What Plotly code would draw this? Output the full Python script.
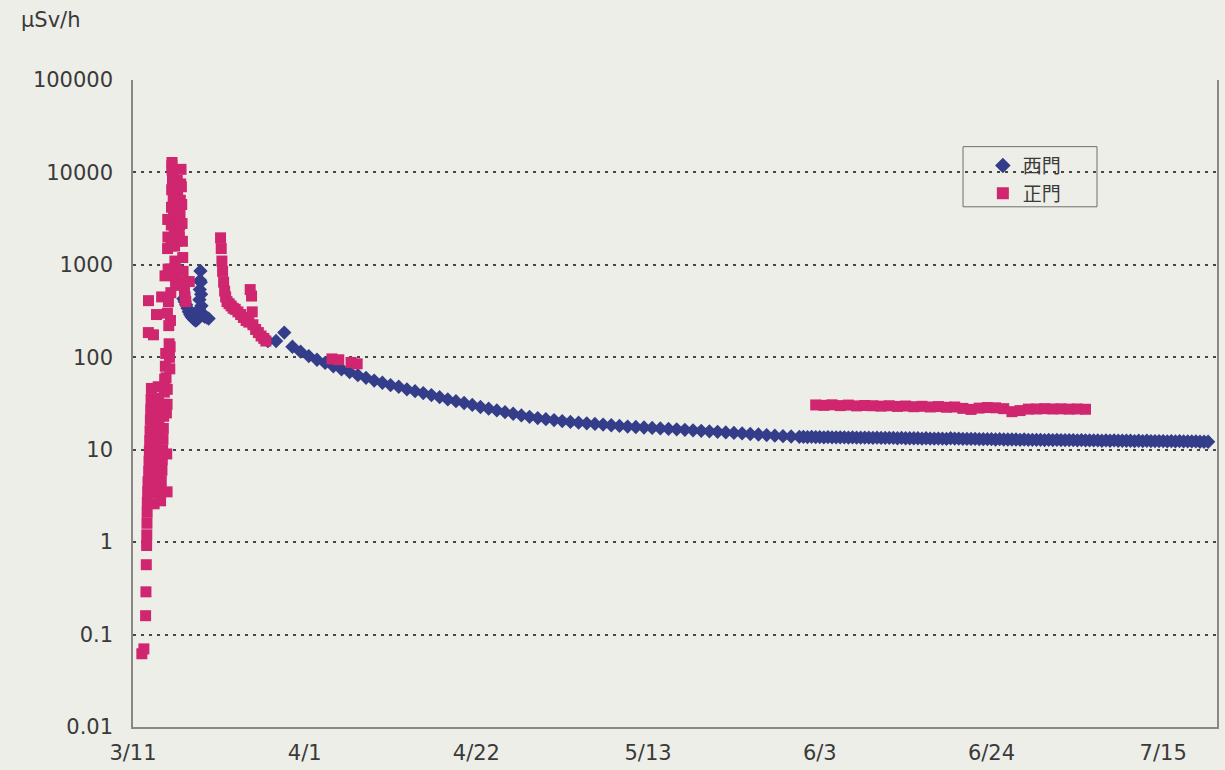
import pandas as pd
import plotly.graph_objects as go

# ---------------- data ----------------
# 西門 (west gate) – irregular early readings
west_early_t = ["3/17 04:00", "3/17 08:00", "3/17 12:00", "3/17 16:00", "3/17 20:00",
                "3/18 00:00", "3/18 04:00", "3/18 08:00", "3/18 12:00", "3/18 16:00",
                "3/18 20:00", "3/19 00:00", "3/19 02:00", "3/19 03:00", "3/19 04:00",
                "3/19 05:00", "3/19 06:00", "3/19 07:00", "3/19 08:00", "3/19 09:00",
                "3/19 10:00", "3/19 14:00", "3/19 18:00", "3/20 00:00", "3/20 06:00"]
west_early_v = [430, 400, 370, 340, 310,
                290, 275, 265, 255, 250,
                255, 265, 330, 420, 540,
                680, 860, 650, 480, 360,
                300, 285, 275, 270, 262]

# 西門 daily readings from 3/27 12:00 to 5/31 12:00
west_daily_start = "2011-03-27 12:00"
west_daily_v = [150, 150, 185, 130, 115,
                103, 94, 87, 80, 74, 69, 64, 60, 56, 53,
                50, 48, 45, 43, 41, 39, 37, 35, 33.5, 32,
                30.5, 29, 27.8, 26.6, 25.5, 24.5, 23.5, 22.7, 22, 21.4,
                20.9, 20.4, 20, 19.6, 19.3, 19, 18.7, 18.4, 18.1, 17.8,
                17.6, 17.4, 17.2, 17.0, 16.8, 16.6, 16.4, 16.2, 16.0, 15.8,
                15.6, 15.4, 15.2, 15.0, 14.8, 14.6, 14.4, 14.2, 14.0, 13.9, 13.8]

# 西門 twice-daily readings from 6/1 00:00 to 7/20 12:00
west_half_start = "2011-06-01 00:00"
west_half_v = [13.8, 13.7, 13.8, 13.7, 13.7, 13.6, 13.7, 13.6, 13.6, 13.6,
               13.6, 13.5, 13.6, 13.5, 13.5, 13.5, 13.5, 13.4, 13.5, 13.4,
               13.4, 13.4, 13.4, 13.3, 13.4, 13.3, 13.3, 13.3, 13.3, 13.2,
               13.3, 13.2, 13.2, 13.2, 13.2, 13.1, 13.3, 13.2, 13.2, 13.1,
               13.1, 13.1, 13.1, 13.0, 13.0, 13.0, 13.0, 12.9, 13.0, 12.9,
               12.9, 12.9, 12.9, 12.8, 12.9, 12.8, 12.8, 12.8, 12.8, 12.7,
               12.8, 12.7, 12.8, 12.7, 12.7, 12.7, 12.7, 12.6, 12.7, 12.6,
               12.6, 12.6, 12.6, 12.5, 12.6, 12.5, 12.6, 12.5, 12.5, 12.5,
               12.5, 12.4, 12.5, 12.4, 12.5, 12.4, 12.4, 12.4, 12.4, 12.3,
               12.4, 12.3, 12.4, 12.3, 12.3, 12.3, 12.3, 12.2, 12.2, 12.2]

# 正門 (main gate) – irregular readings March/April
main_t = ["3/12 02:00", "3/12 08:00", "3/12 13:00", "3/12 14:00", "3/12 15:00",
          "3/12 16:00", "3/12 16:30", "3/12 17:00", "3/12 17:30", "3/12 18:00",
          "3/12 19:00", "3/12 20:00", "3/12 21:00", "3/12 21:30", "3/12 22:00",
          "3/12 23:00", "3/13 00:00", "3/13 01:00", "3/13 02:00", "3/13 03:00",
          "3/13 04:00", "3/13 05:00", "3/13 06:00", "3/13 07:00", "3/13 08:00",
          "3/13 09:00", "3/13 10:00", "3/13 11:00", "3/13 12:00", "3/13 13:00",
          "3/13 14:00", "3/13 15:00", "3/13 16:00", "3/13 17:00", "3/13 18:00",
          "3/13 19:00", "3/13 20:00", "3/13 21:00", "3/13 22:00", "3/13 23:00",
          "3/14 00:00", "3/14 01:00", "3/14 02:00", "3/14 03:00", "3/14 04:00",
          "3/14 05:00", "3/14 06:00", "3/14 07:00", "3/14 08:00", "3/14 09:00",
          "3/14 10:00", "3/14 11:00", "3/14 12:00", "3/14 13:00", "3/14 14:00",
          "3/14 15:00", "3/14 16:00", "3/14 17:00", "3/14 18:00", "3/14 19:00",
          "3/14 20:00", "3/14 21:00", "3/14 22:00", "3/14 23:00", "3/15 00:00",
          "3/15 01:00", "3/15 02:00", "3/15 03:00", "3/15 04:00", "3/15 04:00",
          "3/15 04:30", "3/15 05:00", "3/15 05:30", "3/15 06:00", "3/15 06:30",
          "3/15 07:00", "3/15 08:00", "3/15 09:00", "3/15 10:00", "3/15 11:00",
          "3/15 12:00", "3/15 13:00", "3/15 14:00", "3/15 15:00", "3/15 15:30",
          "3/15 16:00", "3/15 16:30", "3/15 17:00", "3/15 17:30", "3/15 18:00",
          "3/15 18:30", "3/15 19:00", "3/15 20:00", "3/15 21:00", "3/15 22:00",
          "3/15 23:00", "3/16 00:00", "3/16 01:00", "3/16 02:00", "3/16 03:00",
          "3/16 04:00", "3/16 05:00", "3/16 06:00", "3/16 07:00", "3/16 08:00",
          "3/16 09:00", "3/16 10:00", "3/16 11:00", "3/16 12:00", "3/16 13:00",
          "3/16 14:00", "3/16 15:00", "3/16 16:00", "3/16 17:00", "3/16 18:00",
          "3/16 19:00", "3/16 20:00", "3/16 21:00", "3/16 22:00", "3/16 23:00",
          "3/17 00:00", "3/17 01:00", "3/17 02:00", "3/17 03:00", "3/17 05:00",
          "3/17 07:00", "3/17 09:00", "3/17 11:00", "3/17 21:00",
          "3/21 17:00", "3/21 19:00", "3/21 21:00", "3/21 23:00", "3/22 02:00",
          "3/22 05:00", "3/22 08:00", "3/22 12:00", "3/22 18:00", "3/23 00:00",
          "3/23 06:00", "3/23 12:00", "3/23 20:00", "3/24 04:00", "3/24 12:00",
          "3/24 20:00", "3/25 04:00", "3/25 08:00", "3/25 12:00", "3/25 14:00",
          "3/25 16:00", "3/26 00:00", "3/26 08:00", "3/26 16:00", "3/27 00:00",
          "3/27 06:00",
          "4/4 08:00", "4/5 04:00", "4/6 16:00", "4/7 10:00"]
main_v = [0.062, 0.070, 0.16, 0.29, 0.57,
          0.92, 1.2, 1.6, 2.1, 2.7,
          3.5, 4.5, 185, 410, 5.8,
          7.5, 9.7, 12.5, 16, 21,
          27, 35, 46, 30, 20,
          13, 8.5, 5.5, 175, 3.6,
          2.6, 3.4, 4.4, 5.7, 7.4,
          9.6, 12.5, 290, 16, 21,
          27, 36, 48, 32, 21,
          14, 9, 6, 4, 2.8,
          3.6, 4.6, 450, 6, 7.8,
          10, 13, 17, 23, 31,
          42, 58, 760, 80, 110,
          60, 25, 9, 3.5, 31,
          45, 300, 1500, 3100, 2000,
          900, 400, 220, 140, 100,
          75, 130, 250, 500, 900,
          1600, 2700, 4200, 6500, 11900,
          12800, 10500, 8500, 6800, 5200,
          4000, 3000, 2300, 1600, 1100,
          750, 600, 900, 1800, 3500,
          6000, 8200, 6500, 5000, 3800,
          3000, 2400, 2000, 2700, 3600,
          5000, 7500, 10800, 7000, 4500,
          2800, 1800, 1200, 850, 650,
          520, 450, 400, 660,
          1960, 1500, 1100, 850, 650,
          520, 450, 400, 380, 360,
          340, 330, 310, 290, 270,
          250, 240, 540, 460, 310,
          225, 200, 185, 170, 160,
          150,
          96, 94, 88, 85]

# 正門 daily readings from 6/2 to 7/5
main_daily_start = "2011-06-02 12:00"
main_daily_v = [30.5, 30.2, 30.6, 30.0, 30.4, 29.8, 30.1, 29.9, 29.6, 29.9,
                29.4, 29.7, 29.2, 29.5, 29.0, 29.3, 28.8, 29.0, 28.0, 27.3,
                28.2, 28.6, 28.4, 27.8, 25.8, 26.5, 27.5, 27.6, 27.8, 27.6,
                27.7, 27.5, 27.6, 27.4]

# axis
x_tick_dates = ["2011-03-11", "2011-04-01", "2011-04-22", "2011-05-13",
                "2011-06-03", "2011-06-24", "2011-07-15"]
x_tick_text = ["3/11", "4/1", "4/22", "5/13", "6/3", "6/24", "7/15"]
y_tick_vals = [0.01, 0.1, 1, 10, 100, 1000, 10000, 100000]
y_tick_text = ["0.01", "0.1", "1", "10", "100", "1000", "10000", "100000"]

# ---------------- build ----------------
def parse(ts):
    return pd.to_datetime(["2011/" + t for t in ts], format="%Y/%m/%d %H:%M")

west_x = list(parse(west_early_t)) \
    + list(pd.date_range(west_daily_start, periods=len(west_daily_v), freq="D")) \
    + list(pd.date_range(west_half_start, periods=len(west_half_v), freq="12h"))
west_y = west_early_v + west_daily_v + west_half_v

main_x = list(parse(main_t)) + list(pd.date_range(main_daily_start, periods=len(main_daily_v), freq="D"))
main_y = main_v + main_daily_v

BLUE = "#333d8a"
PINK = "#cf266f"
BG = "#eeeee8"
TXT = "#3a3a3a"
FONT = "DejaVu Sans"

fig = go.Figure()
fig.add_trace(go.Scatter(
    x=west_x, y=west_y, mode="markers", name="西門",
    marker=dict(symbol="diamond", size=11, color=BLUE, line=dict(width=0)),
))
fig.add_trace(go.Scatter(
    x=main_x, y=main_y, mode="markers", name="正門",
    marker=dict(symbol="square", size=11, color=PINK, line=dict(width=0)),
))

fig.update_layout(
    width=1225, height=770,
    margin=dict(l=133, r=8, t=80, b=43, autoexpand=False),
    paper_bgcolor=BG, plot_bgcolor=BG,
    font=dict(family=FONT, size=21, color=TXT),
    showlegend=True,
    legend=dict(
        x=0.784, y=0.897, xanchor="left", yanchor="top",
        bgcolor="rgba(0,0,0,0)", borderwidth=0,
        font=dict(family="Noto Sans CJK JP", size=19, color=TXT),
        tracegroupgap=0, itemsizing="constant", itemwidth=30,
    ),
    shapes=[dict(
        type="rect", xref="paper", yref="paper",
        x0=0.7657, x1=0.8893, y0=0.804, y1=0.897,
        line=dict(color="#6e6e6e", width=1), fillcolor="rgba(0,0,0,0)",
        layer="above",
    )],
    annotations=[dict(
        text="μSv/h", xref="paper", yref="paper", x=-0.105, y=1.093,
        xanchor="left", yanchor="middle", showarrow=False,
        font=dict(family=FONT, size=21, color=TXT),
    )],
)

fig.update_xaxes(
    type="date", automargin=False,
    range=["2011-03-11", "2011-07-21 14:00"],
    tickvals=x_tick_dates, ticktext=x_tick_text,
    showgrid=False, zeroline=False,
    showline=True, linecolor="#888888", linewidth=1.5,
    ticks="outside", ticklen=6, tickcolor=BG,
    tickfont=dict(family=FONT, size=21, color=TXT),
)
fig.update_yaxes(
    type="log", range=[-2, 5], automargin=False,
    tickvals=y_tick_vals, ticktext=y_tick_text,
    showgrid=True, gridcolor="#474747", gridwidth=1.6, griddash="3px,5px",
    zeroline=False,
    showline=True, linecolor="#888888", linewidth=1.5, mirror=True,
    ticks="outside", ticklen=14, tickcolor=BG,
    tickfont=dict(family=FONT, size=21, color=TXT),
)

fig.write_html(
    "out.html",
    config={"displayModeBar": False},
    post_script="document.body.style.margin='0';document.body.style.background='#eeeee8';",
)
